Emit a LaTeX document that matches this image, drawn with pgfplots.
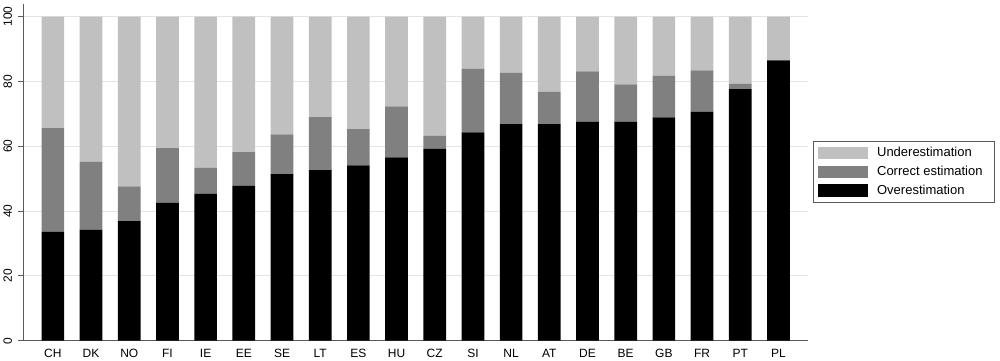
\documentclass[border=0pt]{standalone}
\usepackage{fontspec}
\setmainfont{Liberation Sans}
\usepackage{pgfplots}
\pgfplotsset{compat=1.18}
\usepackage{pgfplotstable}
\definecolor{under}{RGB}{192,192,192}
\definecolor{correct}{RGB}{128,128,128}
\definecolor{axgray}{RGB}{90,90,90}
\definecolor{gridgray}{RGB}{228,228,228}

\pgfplotstableread{
x over correct under
1  33.6 32.0 34.4
2  34.3 20.9 44.8
3  36.9 10.7 52.4
4  42.5 16.9 40.6
5  45.3  8.0 46.7
6  47.8 10.4 41.8
7  51.4 12.3 36.3
8  52.6 16.4 31.0
9  54.1 11.2 34.7
10 56.6 15.7 27.7
11 59.2  4.0 36.8
12 64.3 19.6 16.1
13 66.8 15.9 17.3
14 66.8 10.0 23.2
15 67.6 15.5 16.9
16 67.6 11.5 20.9
17 68.9 12.9 18.2
18 70.7 12.7 16.6
19 77.6  1.7 20.7
20 86.5  0.0 13.5
}\data

\pgfplotsset{myleg/.style={legend image code/.code={\fill[##1] (0bp,-6.3bp) rectangle (50bp,6.3bp);}}}

\begin{document}
\begin{tikzpicture}
\path[use as bounding box] (0,0) rectangle (1000bp,361bp);
\begin{axis}[
  at={(23.3bp,20.3bp)}, anchor=south west,
  scale only axis, width=784.7bp, height=336.7bp,
  xmin=0.225, xmax=20.775, ymin=0, ymax=103.9,
  ybar stacked, bar width=0.594,
  axis x line=bottom, axis y line=left,
  axis line style={-, draw=axgray, line width=1bp},
  xtick={1,...,20},
  xticklabels={CH,DK,NO,FI,IE,EE,SE,LT,ES,HU,CZ,SI,NL,AT,DE,BE,GB,FR,PT,PL},
  xtick style={draw=none},
  xticklabel style={font=\fontsize{12bp}{14bp}\selectfont, anchor=north, inner ysep=0bp, yshift=-3.3bp},
  ytick={0,20,40,60,80,100},
  tick align=outside,
  ytick style={draw=axgray, line width=1bp},
  major tick length=5bp,
  yticklabel style={font=\fontsize{12bp}{14bp}\selectfont, rotate=90, anchor=south, inner ysep=6bp},
  /pgf/number format/assume math mode=true,
  ymajorgrids, grid style={draw=gridgray, line width=0.8bp},
  reverse legend,
  legend style={at={(1.006,0.594)}, anchor=north west, draw=axgray, line width=0.8bp,
    font=\fontsize{13bp}{15bp}\selectfont,
    inner xsep=5bp, inner ysep=4bp,
    nodes={inner xsep=0bp, inner ysep=2bp, text height=9.5bp, text depth=2.5bp, anchor=west},
    column sep=9bp, row sep=2.8bp},
  legend cell align=left,
]
\addplot+[fill=black, draw=none, myleg] table[x=x, y=over] {\data};
\addlegendentry{Overestimation}
\addplot+[fill=correct, draw=none, myleg] table[x=x, y=correct] {\data};
\addlegendentry{Correct estimation\rule{7bp}{0pt}}
\addplot+[fill=under, draw=none, myleg] table[x=x, y=under] {\data};
\addlegendentry{Underestimation}
\end{axis}
\end{tikzpicture}
\end{document}
